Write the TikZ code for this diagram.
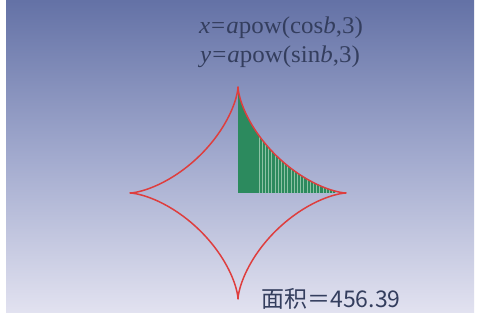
\documentclass[tikz,border=0pt]{standalone}
\usepackage{fontspec}
\setmainfont{Liberation Serif}
\newfontfamily\cjk{Noto Sans CJK SC}
\definecolor{bgtop}{RGB}{100,114,166}
\definecolor{bgmid}{RGB}{162,170,206}
\definecolor{bgbot}{RGB}{226,226,240}
\definecolor{curvered}{RGB}{222,62,62}
\definecolor{fillgreen}{RGB}{44,138,94}
\definecolor{stripe}{RGB}{140,194,164}
\definecolor{txt}{RGB}{52,62,94}
\begin{document}
\begin{tikzpicture}[x=1pt,y=-1pt,
  curve/.style={draw=curvered,line width=1.5pt,line join=round},
  label/.style={text=txt,font=\fontsize{24}{28}\selectfont,inner sep=0pt}]
\useasboundingbox (0,0) rectangle (480,320);
\fill[white] (0,0) rectangle (480,320);
\shade[top color=bgtop,bottom color=bgbot,middle color=bgmid] (6,1) rectangle (474,313);
% filled quarter region
\begin{scope}
\clip (238,193) -- plot[domain=90:0,samples=80,variable=\t] ({238+108*cos(\t)^3},{193-106*sin(\t)^3}) -- cycle;
\clip (238,80) rectangle (336,194);
\fill[fillgreen] (238,80) rectangle (336,194);
\foreach \k in {0,...,24} {
  \draw[stripe,line width=0.7pt] ({259+3.2*\k},80) -- ({259+3.2*\k},194);
}
\end{scope}
% astroid
\draw[curve] plot[domain=0:360,samples=241,variable=\t] ({238+108*cos(\t)^3},{193-106*sin(\t)^3}) -- cycle;
% labels
\node[label,xscale=1.04] (eqx) at (281,28) {\textit{x}\kern1pt=\kern1pt\textit{a}pow(cos\textit{b},3)};
\node[label,xscale=1.04] (eqy) at (280,57) {\textit{y}\kern1pt=\kern1pt\textit{a}pow(sin\textit{b},3)};
\node[label,font=\cjk\fontsize{23}{28}\selectfont] (area) at (331,299) {面积＝456.39};
\end{tikzpicture}
\end{document}
